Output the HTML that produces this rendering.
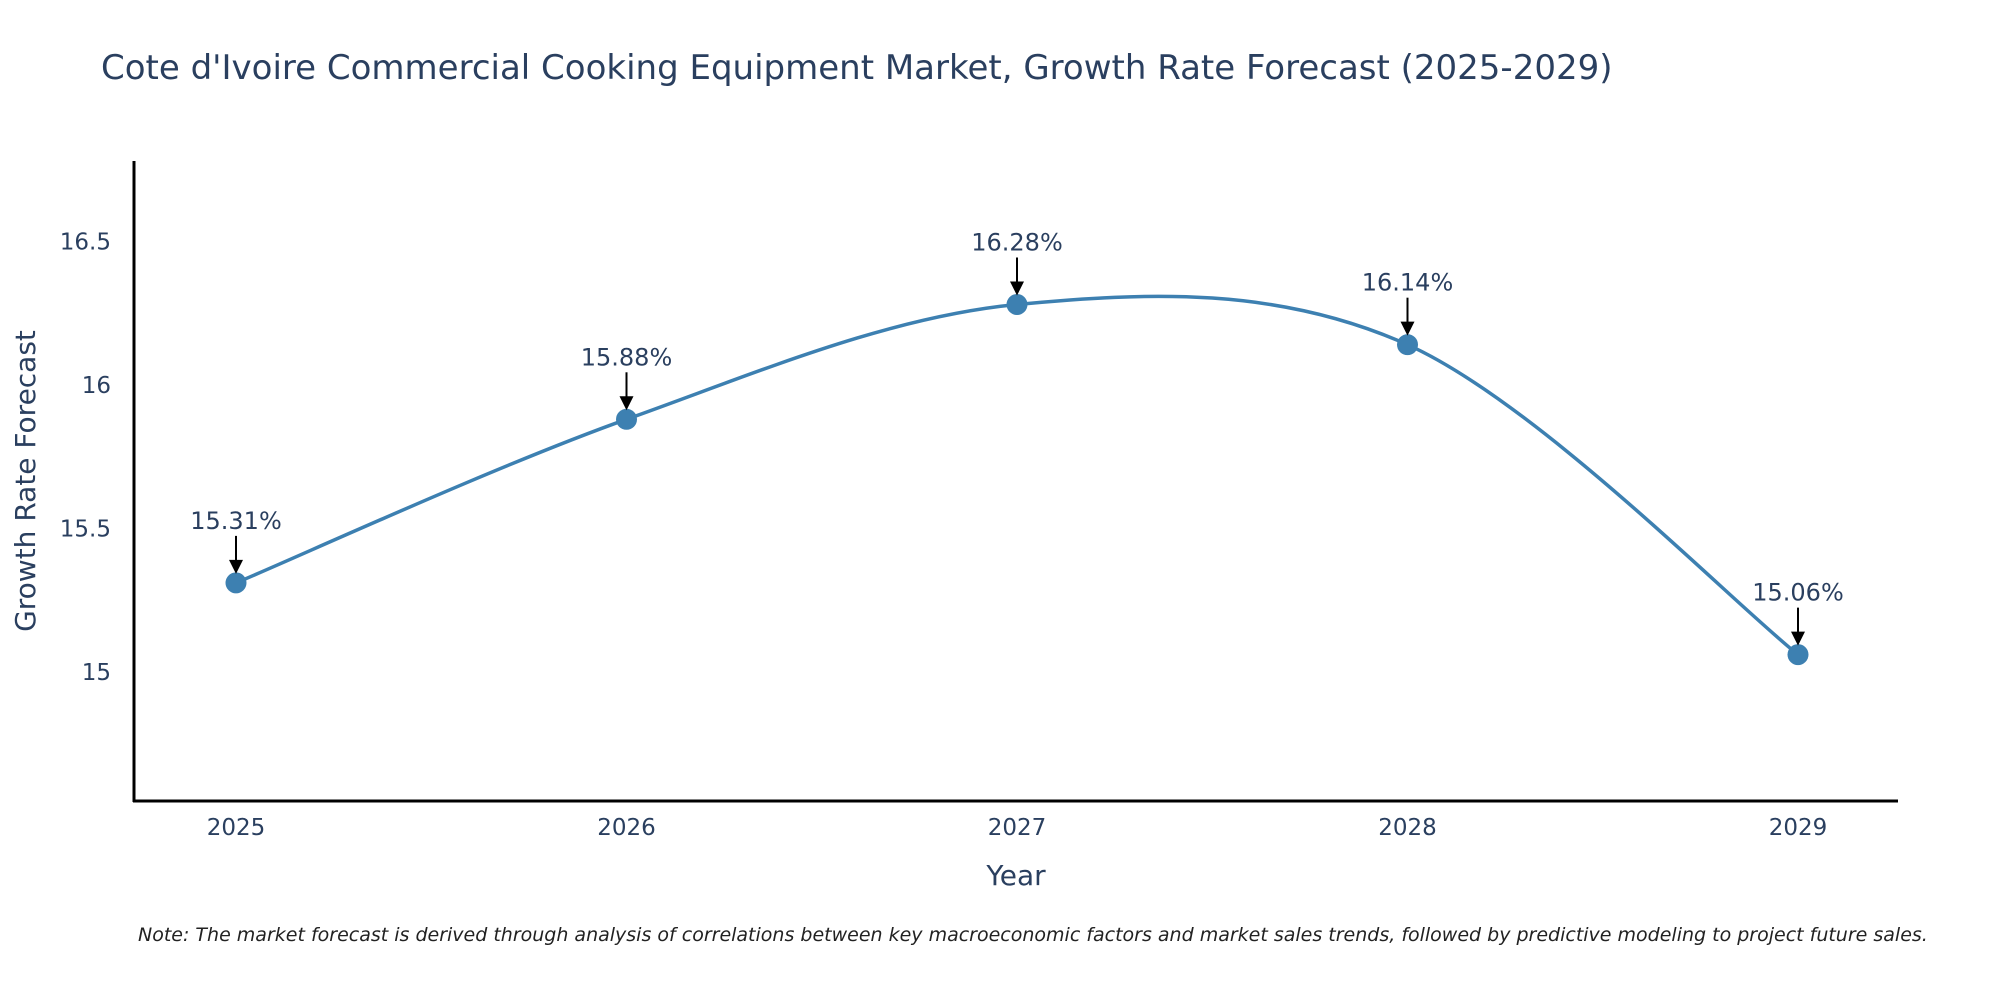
<!DOCTYPE html>
<html><head><meta charset="utf-8"><style>
body{margin:0;background:#fff;}
svg text{font-family:"DejaVu Sans","Liberation Sans",sans-serif;}
</style></head><body>
<svg id="chart" width="2000" height="1000" viewBox="0 0 2000 1000" xmlns="http://www.w3.org/2000/svg">
<rect width="2000" height="1000" fill="#fff"/>
<text x="101" y="79" font-size="34" fill="#2a3f5f">Cote d'Ivoire Commercial Cooking Equipment Market, Growth Rate Forecast (2025-2029)</text>
<g id="axes"></g>
<g id="series"></g>
<g id="annots"></g>
<text x="1016" y="885" font-size="28" fill="#2a3f5f" text-anchor="middle">Year</text>
<text transform="translate(35,481) rotate(-90)" font-size="28" fill="#2a3f5f" text-anchor="middle">Growth Rate Forecast</text>
<text x="138" y="941" font-size="19" font-style="italic" fill="#222">Note: The market forecast is derived through analysis of correlations between key macroeconomic factors and market sales trends, followed by predictive modeling to project future sales.</text>
</svg>
<script>
const years = ["2025","2026","2027","2028","2029"];
const values = [15.31, 15.88, 16.28, 16.14, 15.06];
const labels = ["15.31%","15.88%","16.28%","16.14%","15.06%"];
const yTicks = [15, 15.5, 16, 16.5];
const yTickLabels = ["15","15.5","16","16.5"];

const NS="http://www.w3.org/2000/svg";
const X0=236, X1=1798, Y0=14.55, Y1=16.78, PB=801, PT=161, AL=134, AR=1898;
const xs=i=>X0+(X1-X0)*i/(years.length-1);
const ys=v=>PB-(v-Y0)/(Y1-Y0)*(PB-PT);
function mk(tag,attrs,parent){const e=document.createElementNS(NS,tag);for(const k in attrs)e.setAttribute(k,attrs[k]);parent.appendChild(e);return e;}
const axes=document.getElementById('axes'),ser=document.getElementById('series'),an=document.getElementById('annots');

const ya=mk('line',{x1:AL,x2:AL,y1:PT,y2:PB+1,stroke:'#000','stroke-width':3},axes);


const xa=mk('line',{x1:AL-1,x2:AR,y1:PB,y2:PB,stroke:'#000','stroke-width':3},axes);



yTicks.forEach((t,i)=>{
  const tx=mk('text',{x:AL-23,y:ys(t)+8,'font-size':23,fill:'#2a3f5f','text-anchor':'end'},axes);
  tx.textContent=yTickLabels[i];
  
  
});
years.forEach((y,i)=>{
  const tx=mk('text',{x:xs(i),y:PB+34,'font-size':23,fill:'#2a3f5f','text-anchor':'middle'},axes);
  tx.textContent=y;
  
  
});

const pts=values.map((v,i)=>[xs(i),ys(v)]);
let d=`M${pts[0][0]},${pts[0][1]}`;
for(let i=0;i<pts.length-1;i++){
  const p0=pts[Math.max(0,i-1)],p1=pts[i],p2=pts[i+1],p3=pts[Math.min(pts.length-1,i+2)];
  const k=1/6;
  const c1=[p1[0]+(p2[0]-p0[0])*k,p1[1]+(p2[1]-p0[1])*k];
  const c2=[p2[0]-(p3[0]-p1[0])*k,p2[1]-(p3[1]-p1[1])*k];
  d+=` C${c1[0]},${c1[1]} ${c2[0]},${c2[1]} ${p2[0]},${p2[1]}`;
}
const line=mk('path',{d:d,fill:'none',stroke:'#3d80b1','stroke-width':3.5},ser);



pts.forEach((p,i)=>{
  const c=mk('circle',{cx:p[0],cy:p[1],r:10.5,fill:'#3d80b1'},ser);
  
  
  const l=mk('line',{x1:p[0],x2:p[0],y1:p[1]-47,y2:p[1]-22,stroke:'#000','stroke-width':2},an);
  
  
  const h=mk('polygon',{points:`${p[0]-7},${p[1]-23} ${p[0]+7},${p[1]-23} ${p[0]},${p[1]-9}`,fill:'#000'},an);
  
  
  const t=mk('text',{x:p[0],y:p[1]-54,'font-size':24,fill:'#2a3f5f','text-anchor':'middle'},an);
  t.textContent=labels[i];
  
  
});
</script>
</body></html>
